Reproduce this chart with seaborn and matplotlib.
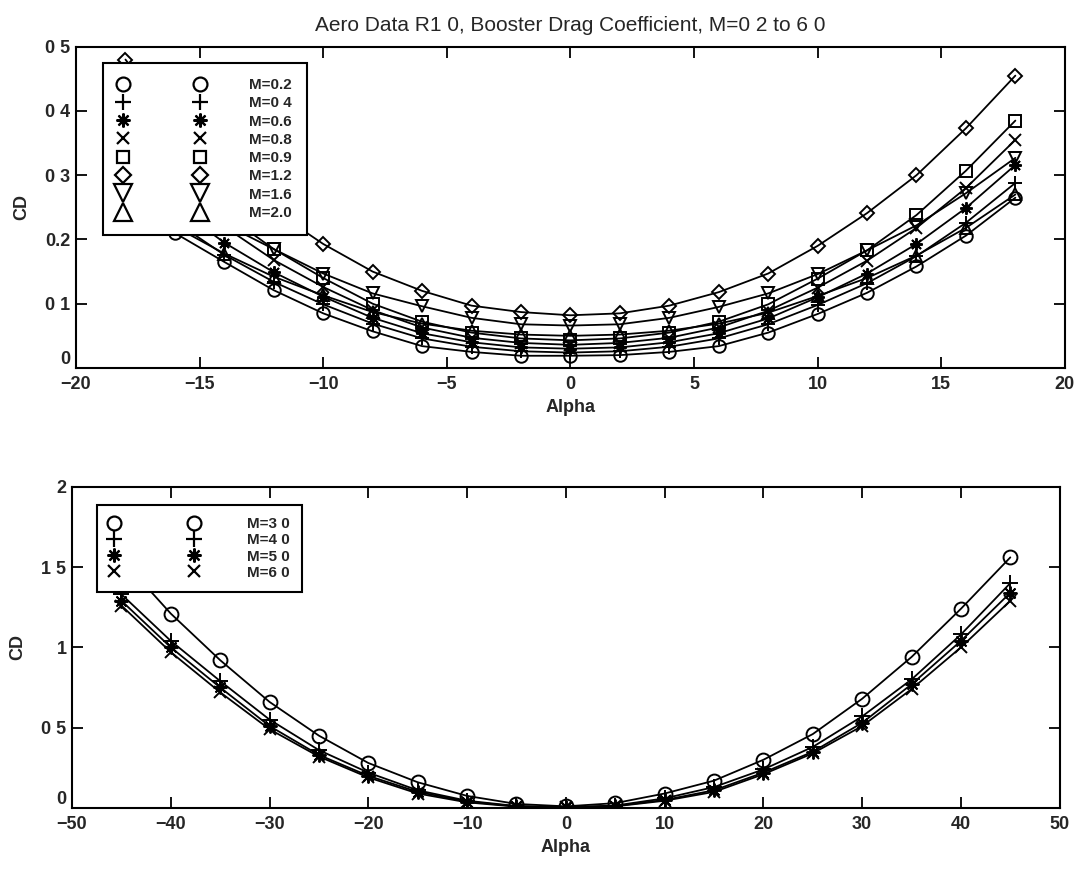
import matplotlib
matplotlib.use("Agg")
import matplotlib.pyplot as plt
from matplotlib.lines import Line2D
import seaborn as sns
import pandas as pd

# ---------------- data ----------------
alpha_top = [-18, -16, -14, -12, -10, -8, -6, -4, -2, 0, 2, 4, 6, 8, 10, 12, 14, 16, 18]
cd_m02 = [0.270, 0.210, 0.165, 0.121, 0.085, 0.057, 0.034, 0.025, 0.019, 0.019, 0.020, 0.025, 0.034, 0.055, 0.084, 0.117, 0.158, 0.206, 0.265]
cd_m04 = [0.290, 0.228, 0.176, 0.134, 0.099, 0.069, 0.046, 0.033, 0.026, 0.024, 0.026, 0.033, 0.046, 0.068, 0.098, 0.132, 0.174, 0.226, 0.288]
cd_m06 = [0.320, 0.252, 0.195, 0.149, 0.111, 0.078, 0.054, 0.040, 0.032, 0.030, 0.032, 0.040, 0.054, 0.077, 0.110, 0.147, 0.193, 0.249, 0.316]
cd_m08 = [0.360, 0.283, 0.220, 0.168, 0.126, 0.090, 0.063, 0.047, 0.039, 0.036, 0.039, 0.047, 0.063, 0.089, 0.125, 0.167, 0.218, 0.280, 0.355]
cd_m09 = [0.390, 0.308, 0.240, 0.185, 0.140, 0.100, 0.072, 0.055, 0.046, 0.043, 0.046, 0.055, 0.072, 0.099, 0.139, 0.183, 0.238, 0.307, 0.385]
cd_m12 = [0.480, 0.380, 0.305, 0.245, 0.193, 0.150, 0.120, 0.097, 0.087, 0.082, 0.085, 0.097, 0.118, 0.147, 0.190, 0.241, 0.300, 0.373, 0.455]
cd_m16 = [0.330, 0.275, 0.224, 0.185, 0.147, 0.116, 0.096, 0.078, 0.068, 0.066, 0.068, 0.078, 0.095, 0.116, 0.146, 0.183, 0.222, 0.272, 0.327]
cd_m20 = [0.272, 0.220, 0.178, 0.142, 0.113, 0.087, 0.069, 0.058, 0.052, 0.050, 0.052, 0.058, 0.069, 0.086, 0.112, 0.140, 0.175, 0.218, 0.270]
labels_top = ["M=0.2", "M=0 4", "M=0.6", "M=0.8", "M=0.9", "M=1.2", "M=1.6", "M=2.0"]

alpha_bot = [-45, -40, -35, -30, -25, -20, -15, -10, -5, 0, 5, 10, 15, 20, 25, 30, 35, 40, 45]
cd_m30 = [1.55, 1.21, 0.92, 0.66, 0.45, 0.28, 0.16, 0.075, 0.025, 0.010, 0.030, 0.090, 0.170, 0.300, 0.460, 0.680, 0.940, 1.240, 1.560]
cd_m40 = [1.33, 1.04, 0.79, 0.55, 0.36, 0.22, 0.11, 0.045, 0.012, 0.005, 0.015, 0.060, 0.130, 0.240, 0.380, 0.570, 0.800, 1.080, 1.400]
cd_m50 = [1.29, 1.00, 0.75, 0.51, 0.33, 0.20, 0.10, 0.040, 0.010, 0.004, 0.012, 0.050, 0.110, 0.220, 0.350, 0.530, 0.770, 1.040, 1.340]
cd_m60 = [1.26, 0.97, 0.72, 0.49, 0.32, 0.19, 0.09, 0.035, 0.008, 0.003, 0.010, 0.045, 0.100, 0.210, 0.340, 0.510, 0.740, 1.000, 1.290]
labels_bot = ["M=3 0", "M=4 0", "M=5 0", "M=6 0"]

title_text = "Aero Data R1 0, Booster Drag Coefficient, M=0 2 to 6 0"
xt_top = [-20, -15, -10, -5, 0, 5, 10, 15, 20]
xt_top_lbl = ["\u221220", "\u221215", "\u221210", "\u22125", "0", "5", "10", "15", "20"]
yt_top = [0, 0.1, 0.2, 0.3, 0.4, 0.5]
yt_top_lbl = ["0", "0 1", "0.2", "0 3", "0 4", "0 5"]
xt_bot = [-50, -40, -30, -20, -10, 0, 10, 20, 30, 40, 50]
xt_bot_lbl = ["\u221250", "\u221240", "\u221230", "\u221220", "\u221210", "0", "10", "20", "30", "40", "50"]
yt_bot = [0, 0.5, 1, 1.5, 2]
yt_bot_lbl = ["0", "0 5", "1", "1 5", "2"]

# ---------------- style ----------------
sns.set_theme(style="white")
plt.rcParams["font.family"] = ["Liberation Sans", "DejaVu Sans"]
plt.rcParams["xtick.direction"] = "in"
plt.rcParams["ytick.direction"] = "in"

fig = plt.figure(figsize=(10.83, 8.73), dpi=100)
ax1 = fig.add_axes([0.0702, 0.5785, 0.913, 0.368])
ax2 = fig.add_axes([0.0665, 0.0745, 0.912, 0.368])

top_series = [cd_m02, cd_m04, cd_m06, cd_m08, cd_m09, cd_m12, cd_m16, cd_m20]
top_markers = ["o", "+", (8, 2, 0), "x", "s", "D", "v", "^"]
top_msize = [9, 10, 9, 8, 8, 7, 9, 9]
top_leg_msize = [10, 12, 10, 9, 9, 8, 13, 13]

bot_series = [cd_m30, cd_m40, cd_m50, cd_m60]
bot_markers = ["o", "+", (8, 2, 0), "x"]
bot_msize = [10, 11, 10, 8]

def draw(ax, xs, series, markers, sizes):
    for ys, mk, ms in zip(series, markers, sizes):
        df = pd.DataFrame({"alpha": xs, "cd": ys})
        sns.lineplot(data=df, x="alpha", y="cd", ax=ax, color="black",
                     linewidth=1.3, marker=mk, markersize=ms,
                     markerfacecolor="none", markeredgecolor="black",
                     markeredgewidth=1.4, errorbar=None, legend=False)

draw(ax1, alpha_top, top_series, top_markers, top_msize)
draw(ax2, alpha_bot, bot_series, bot_markers, bot_msize)

tick_font = dict(fontsize=13, fontweight="bold")

def style_axes(ax, xt, xl, yt, yl, xlim, ylim):
    ax.set_xlim(*xlim)
    ax.set_ylim(*ylim)
    ax.set_xticks(xt)
    ax.set_xticklabels(xl, **tick_font)
    ax.set_yticks(yt)
    ylabels = ax.set_yticklabels(yl, **tick_font)
    ylabels[0].set_verticalalignment("bottom")
    ax.tick_params(axis="both", which="both", direction="in", length=8, width=1.3,
                   top=True, right=True, bottom=True, left=True, color="black", pad=4)
    ax.tick_params(axis="x", pad=6)
    for sp in ax.spines.values():
        sp.set_visible(True)
        sp.set_color("black")
        sp.set_linewidth(1.5)
    ax.set_xlabel("Alpha", fontsize=13, fontweight="bold", labelpad=4)
    ax.set_ylabel("CD", fontsize=13, fontweight="bold", labelpad=11)
    ax.grid(False)

style_axes(ax1, xt_top, xt_top_lbl, yt_top, yt_top_lbl, (-20, 20), (0, 0.5))
style_axes(ax2, xt_bot, xt_bot_lbl, yt_bot, yt_bot_lbl, (-50, 50), (0, 2))

ax1.set_title(title_text, fontsize=15, pad=11)

def make_legend(ax, markers, sizes, labels, anchor, spacing, bpad, hlen, tpad):
    handles = [Line2D([], [], linestyle="none", marker=mk, markersize=ms,
                      markerfacecolor="none", markeredgecolor="black",
                      markeredgewidth=1.6, color="black")
               for mk, ms in zip(markers, sizes)]
    leg = ax.legend(handles, labels, loc="upper left", bbox_to_anchor=anchor,
                    borderaxespad=0.0,
                    numpoints=2, handlelength=hlen, handletextpad=tpad,
                    labelspacing=spacing, borderpad=bpad, frameon=True, fancybox=False,
                    prop=dict(size=11, weight="bold", family=["Liberation Sans", "DejaVu Sans"]))
    fr = leg.get_frame()
    fr.set_edgecolor("black")
    fr.set_linewidth(1.5)
    fr.set_facecolor("white")
    fr.set_alpha(1.0)
    leg.set_zorder(10)
    return leg

# top legend box: sits ~16 px under the top frame, ~215 px wide
make_legend(ax1, top_markers, top_leg_msize, labels_top,
            ((103 - 76) / 989, 1 - 16 / 321), 0.28, 1.0, 5.63, 2.95)
# bottom legend box: sits ~18 px under the top frame
make_legend(ax2, bot_markers, [10, 11, 10, 8], labels_bot,
            ((97 - 72) / 988, 1 - 18 / 321), 0.15, 0.8, 5.83, 3.2)

fig.savefig("out.png", dpi=100)
